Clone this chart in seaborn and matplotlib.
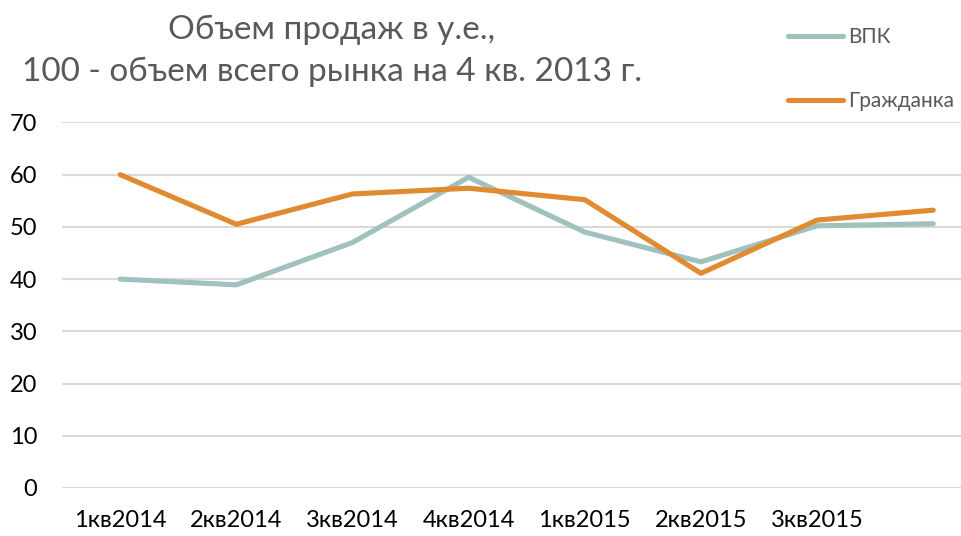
import pandas as pd
import seaborn as sns
import matplotlib.pyplot as plt

# quarters (the last point has no label on the original chart)
quarters = ['1кв2014', '2кв2014', '3кв2014', '4кв2014',
            '1кв2015', '2кв2015', '3кв2015', '']
vpk = [40.0, 38.9, 47.0, 59.5, 49.0, 43.3, 50.2, 50.6]
civil = [60.0, 50.5, 56.3, 57.4, 55.2, 41.1, 51.3, 53.2]

df = pd.DataFrame({
    'x': list(range(len(quarters))) * 2,
    'value': vpk + civil,
    'series': ['ВПК'] * len(vpk) + ['Гражданка'] * len(civil),
})

sns.set_style('white')
plt.rcParams['font.family'] = ['Lato', 'DejaVu Sans']

fig = plt.figure(figsize=(9.62, 5.36), dpi=100)
ax = fig.add_axes([0.0645, 0.0896, 0.966, 0.682])

palette = {'ВПК': '#9fc2be', 'Гражданка': '#e08a32'}
sns.lineplot(data=df, x='x', y='value', hue='series', palette=palette,
             linewidth=3.7, ax=ax, legend=False)

ax.set_xlim(-0.5, len(quarters) - 0.5)
ax.set_ylim(0, 70)
ax.set_yticks(range(0, 71, 10))
ax.set_xticks(range(len(quarters)))
ax.set_xticklabels(quarters)
ax.yaxis.grid(True, color='#d9d9d9', linewidth=1.5)
ax.set_axisbelow(True)
for s in ax.spines.values():
    s.set_visible(False)
ax.tick_params(axis='both', length=0, labelsize=17, colors='black')
ax.tick_params(axis='y', pad=18)
ax.tick_params(axis='x', pad=16)
ax.set_xlabel('')
ax.set_ylabel('')

# two-line title
fig.text(0.345, 0.945, 'Объем продаж в у.е.,', ha='center', va='center',
         fontsize=24, color='#595959')
fig.text(0.345, 0.866, '100 - объем всего рынка на 4 кв. 2013 г.', ha='center',
         va='center', fontsize=24, color='#595959')

# legend
handles = [plt.Line2D([], [], color=palette[k], linewidth=3.7,
                      solid_capstyle='round') for k in palette]
fig.legend(handles, list(palette.keys()), loc='upper left',
           bbox_to_anchor=(0.8105, 0.965), frameon=False, fontsize=15,
           labelcolor='#595959', handlelength=2.65, handletextpad=0.25,
           labelspacing=2.1, borderaxespad=0)

fig.savefig('out.png', dpi=100)
